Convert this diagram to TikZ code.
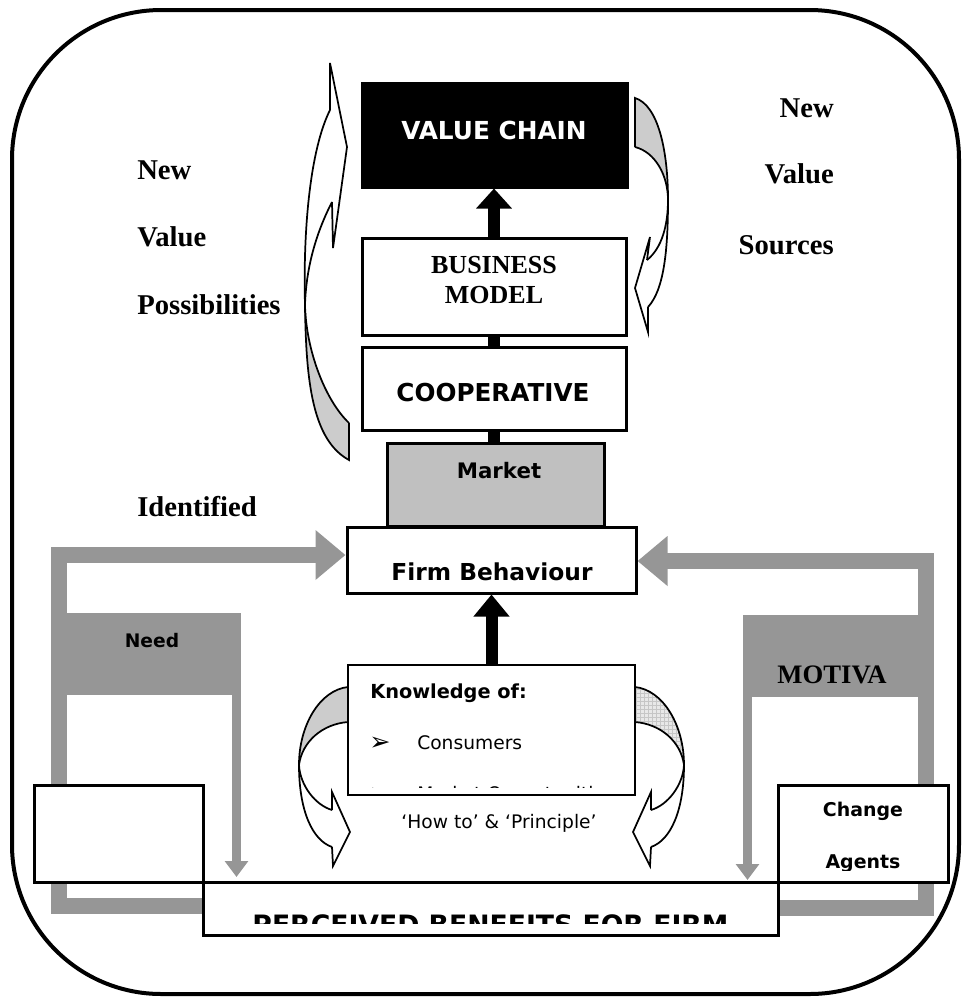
\documentclass[tikz,border=0pt]{standalone}
\usepackage{fontspec}
\setmainfont{Liberation Serif}
\newfontfamily\vsans{DejaVu Sans}
\usetikzlibrary{arrows.meta,patterns,backgrounds}
\definecolor{bandgray}{RGB}{150,150,150}
\definecolor{marketgray}{RGB}{192,192,192}
\definecolor{arrgray}{RGB}{204,204,204}
\definecolor{lightgrid}{RGB}{232,232,232}
\begin{document}
\begin{tikzpicture}[x=0.75pt,y=-0.75pt,
  bx/.style={draw, line width=2.25pt, fill=white, inner sep=0pt},
  gbox/.style={fill=bandgray, inner sep=0pt},
  txt/.style={inner sep=0pt},
  blk/.style={draw=black, line width=9pt},
  gband/.style={draw=bandgray, line width=12pt, line join=miter, -{Triangle[width=36pt,length=22.5pt]}},
  gdown/.style={draw=bandgray, line width=6.75pt, -{Triangle[width=17pt,length=12pt]}},
  crv/.style={line width=1.3pt, line join=miter},
  serifl/.style={txt, anchor=base west, font=\bfseries\fontsize{21.5}{24}\selectfont},
  serifr/.style={txt, anchor=base east, font=\bfseries\fontsize{21.5}{24}\selectfont}]
\useasboundingbox (0,0) rectangle (962,997);
% outer frame
\draw[line width=3pt, rounded corners=112pt] (12,10) rectangle (959,994);

% ---- top-left curved arrow (New Value Possibilities)
\fill[arrgray] (305,305) .. controls (306,380) and (312,440) .. (349,460) -- (349,423) .. controls (325,400) and (306,350) .. (305,305) -- cycle;
\draw[crv] (330,110) .. controls (310,150) and (303,230) .. (305,305) .. controls (306,380) and (312,440) .. (349,460) -- (349,423);
\draw[crv] (332,202) .. controls (315,235) and (306,270) .. (305,305) .. controls (306,350) and (325,400) .. (349,423);
\draw[crv] (330,110) -- (330,63) -- (347,147) -- (333,248) -- (332,202);

% ---- top-right curved arrow (New Value Sources)
\fill[arrgray] (635,98) .. controls (658,105) and (668,150) .. (668,200) .. controls (668,175) and (655,152) .. (635,147) -- cycle;
\draw[crv] (635,147) -- (635,98) .. controls (658,105) and (668,150) .. (668,200) .. controls (668,250) and (664,290) .. (648,307);
\draw[crv] (635,147) .. controls (655,152) and (668,175) .. (668,200) .. controls (668,225) and (662,248) .. (647,260);
\draw[crv] (647,260) -- (650,237) -- (635,288) -- (648,332) -- (648,307);

% ---- lower-left curved arrow
\fill[arrgray] (348,687) .. controls (320,690) and (299,725) .. (299,765) .. controls (302,742) and (322,724) .. (348,722) -- cycle;
\draw[crv] (348,687) .. controls (320,690) and (299,725) .. (299,765) .. controls (299,810) and (312,840) .. (332,847);
\draw[crv] (348,722) .. controls (322,724) and (302,742) .. (299,765) .. controls (300,785) and (315,805) .. (332,810);
\draw[crv] (332,810) -- (332,792) -- (350,832) -- (333,866) -- (332,847);

% ---- lower-right curved arrow
\fill[lightgrid] (635,687) .. controls (663,690) and (684,725) .. (684,765) .. controls (681,742) and (661,724) .. (635,722) -- cycle;
\fill[pattern=grid, pattern color=gray!45] (635,687) .. controls (663,690) and (684,725) .. (684,765) .. controls (681,742) and (661,724) .. (635,722) -- cycle;
\draw[crv] (635,687) .. controls (663,690) and (684,725) .. (684,765) .. controls (684,810) and (671,840) .. (651,847);
\draw[crv] (635,722) .. controls (661,724) and (681,742) .. (684,765) .. controls (683,785) and (668,805) .. (651,810);
\draw[crv] (651,810) -- (651,792) -- (633,832) -- (650,866) -- (651,847);

% ---- gray label boxes
\node[gbox, minimum width=130.5pt, minimum height=61.5pt] (need) at (154,654) {};
\node[gbox, minimum width=142.5pt, minimum height=61.5pt] (mot) at (838,656) {};

% ---- boxes
\node[bx, fill=black, minimum width=198.75pt, minimum height=78pt] (vc) at (494.5,135) {};
\node[bx, minimum width=198pt, minimum height=72.75pt] (bm) at (494,286.5) {};
\node[bx, minimum width=198pt, minimum height=62.25pt] (coop) at (494,388.5) {};
\node[bx, fill=marketgray, minimum width=162.75pt, minimum height=62.25pt] (mk) at (495.5,484.5) {};
\node[bx, minimum width=216.75pt, minimum height=49.5pt] (fb) at (491.5,560) {};
\node[bx, line width=1.5pt, minimum width=215.25pt, minimum height=97.5pt] (kn) at (491.5,730) {};
\node[bx, minimum width=126.75pt, minimum height=72.75pt] (lb) at (118.5,833.5) {};
\node[bx, minimum width=127.5pt, minimum height=72.75pt] (ca) at (863,833.5) {};
\node[bx, minimum width=431.25pt, minimum height=39.75pt] (pb) at (490.5,908.5) {};

% ---- gray L-shaped arrows (behind boxes)
\begin{scope}[on background layer]
\coordinate (lbend) at (59,905.5);
\coordinate (ltop) at (59,555);
\draw[gband] (lbend -| pb.west) -- (lbend) -- (ltop) -- (ltop -| fb.west);
\coordinate (rbend) at (925.5,907.5);
\coordinate (rtop) at (925.5,561);
\draw[gband] (rbend -| pb.east) -- (rbend) -- (rtop) -- (rtop -| fb.east);
\end{scope}

% ---- gray down arrows
\coordinate (ntip) at (236.5,877);
\draw[gdown] (ntip |- need.south) -- (ntip);
\coordinate (mtip) at (747.5,880);
\draw[gdown] (mtip |- mot.south) -- (mtip);

% ---- black connectors
\draw[blk, -{Triangle[width=26pt,length=15pt]}] (bm.north) -- (bm.north |- vc.south);
\draw[blk] (coop.north) -- (coop.north |- bm.south);
\draw[blk] (mk.north -| coop.south) -- (coop.south);
\draw[blk, -{Triangle[width=26pt,length=16.5pt]}] (kn.north) -- (kn.north |- fb.south);

% ---- texts in boxes
\node[txt, anchor=base, text=white, font=\vsans\bfseries\fontsize{18.6}{20}\selectfont] (vct) at (494,139) {VALUE CHAIN};
\node[txt, align=center, font=\bfseries\fontsize{19.5}{22.5}\selectfont] (bmt) at (494,280) {BUSINESS\\MODEL};
\node[txt, anchor=base, font=\vsans\bfseries\fontsize{18.5}{20}\selectfont] (coopt) at (493,401) {COOPERATIVE};
\node[txt, anchor=base, font=\vsans\bfseries\fontsize{16}{18}\selectfont] (mkt) at (499,478) {Market};
\node[txt, anchor=base, font=\vsans\bfseries\fontsize{17.5}{19}\selectfont] (fbt) at (492,580) {Firm Behaviour};
\node[txt, anchor=base west, font=\vsans\bfseries\fontsize{14.5}{16}\selectfont] (kt1) at (370,698) {Knowledge of:};
\node[txt, anchor=base west, font=\vsans\fontsize{19}{20}\selectfont] (kb1) at (369,750) {➢};
\node[txt, anchor=base west, font=\vsans\fontsize{14}{16}\selectfont] (kt2) at (417,749) {Consumers};
\begin{scope}
\clip (350,667) rectangle (633,787.5);
\node[txt, anchor=base west, font=\vsans\fontsize{19}{20}\selectfont] (kb2) at (369,801) {➢};
\node[txt, anchor=base west, font=\vsans\fontsize{14}{16}\selectfont] (kt3) at (417,800) {Market Opportunities};
\end{scope}
\node[txt, anchor=base, font=\vsans\fontsize{14}{16}\selectfont] (howto) at (499,828) {‘How to’ \& ‘Principle’};
\node[txt, anchor=base, font=\vsans\bfseries\fontsize{14}{16}\selectfont] (needt) at (152,647) {Need};
\node[txt, anchor=base, font=\bfseries\fontsize{20}{22}\selectfont] (mott) at (832,683) {MOTIVA};
\node[txt, anchor=base, font=\vsans\bfseries\fontsize{14.2}{16}\selectfont] (cat1) at (863,816) {Change};
\begin{scope}
\clip (780,787) rectangle (946,870);
\node[txt, anchor=base, font=\vsans\bfseries\fontsize{14.2}{16}\selectfont] (cat2) at (863,868) {Agents};
\end{scope}
\begin{scope}
\clip (205,884) rectangle (776,923);
\node[txt, anchor=base, font=\vsans\bfseries\fontsize{20}{22}\selectfont] (pbt) at (490.5,934) {PERCEIVED BENEFITS FOR FIRM};
\end{scope}

% ---- free labels
\node[serifl] (nl1) at (137,179) {New};
\node[serifl] (nl2) at (137,246) {Value};
\node[serifl] (nl3) at (137,314) {Possibilities};
\node[serifl] (idf) at (137,516) {Identified};
\node[serifr] (nr1) at (834,117) {New};
\node[serifr] (nr2) at (834,183) {Value};
\node[serifr] (nr3) at (834,254) {Sources};
\end{tikzpicture}
\end{document}
